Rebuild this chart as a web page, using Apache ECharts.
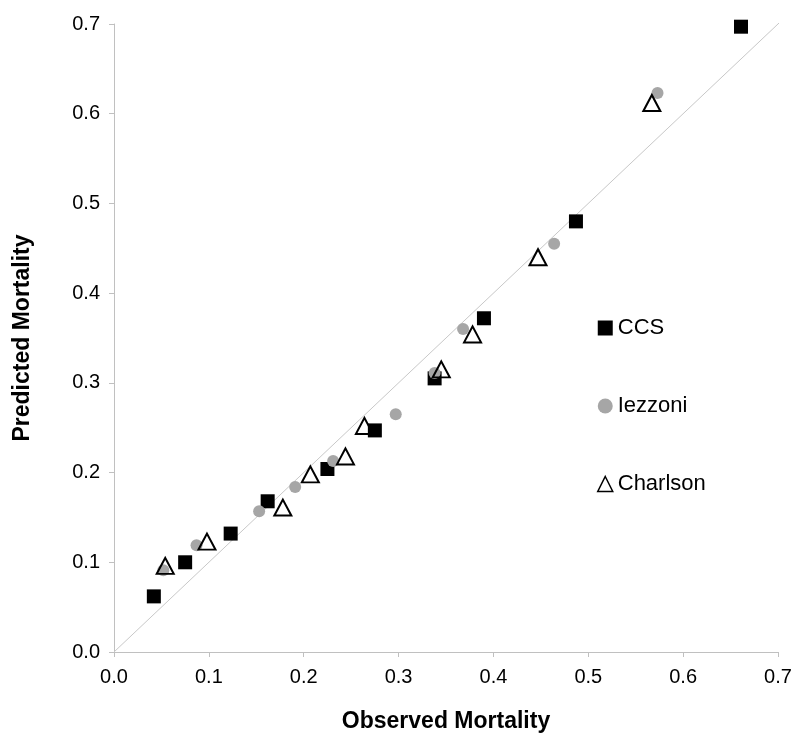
<!DOCTYPE html>
<html>
<head>
<meta charset="utf-8">
<script src="https://cdn.jsdelivr.net/npm/echarts@6/dist/echarts.min.js"></script>
<style>html,body{margin:0;padding:0;background:#fff}#c{width:800px;height:744px}</style>
</head>
<body>
<div id="c"></div>
<script>
const ccs = [[0.042,0.062],[0.075,0.100],[0.123,0.132],[0.162,0.168],[0.225,0.204],[0.275,0.247],[0.338,0.305],[0.390,0.372],[0.487,0.480],[0.661,0.697]];
const iezzoni = [[0.052,0.091],[0.087,0.119],[0.153,0.157],[0.191,0.184],[0.231,0.213],[0.297,0.265],[0.338,0.311],[0.368,0.360],[0.464,0.455],[0.573,0.623]];
const charlson = [[0.054,0.096],[0.098,0.123],[0.178,0.161],[0.207,0.198],[0.244,0.218],[0.264,0.252],[0.345,0.315],[0.378,0.354],[0.447,0.440],[0.567,0.612]];
const identityLine = [[0,0],[0.71,0.71]];
const seriesNames = ['CCS','Iezzoni','Charlson'];
const xTitle = 'Observed Mortality';
const yTitle = 'Predicted Mortality';

const chart = echarts.init(document.getElementById('c'), null, {renderer:'canvas'});
const font = 'Liberation Sans, Arial, sans-serif';
const axisCommon = {
  type:'value', min:0, max:0.7, interval:0.1,
  axisLine:{show:true, lineStyle:{color:'#c0c0c0', width:1}},
  axisTick:{show:true, length:5, inside:false, lineStyle:{color:'#c0c0c0'}},
  splitLine:{show:false},
  axisLabel:{color:'#000', fontSize:20, fontFamily:font, formatter:v=>v.toFixed(1)},
  nameLocation:'middle',
  nameTextStyle:{color:'#000', fontSize:23, fontWeight:'bold', fontFamily:font}
};
chart.setOption({
  animation:false,
  backgroundColor:'#fff',
  grid:{left:114, right:22, top:24, bottom:92},
  xAxis:Object.assign({}, axisCommon, {name:xTitle, nameGap:58, axisLabel:Object.assign({}, axisCommon.axisLabel, {margin:15})}),
  yAxis:Object.assign({}, axisCommon, {name:yTitle, nameGap:80, axisLabel:Object.assign({}, axisCommon.axisLabel, {margin:14})}),
  legend:{
    orient:'vertical', left:592, top:312, itemGap:56, itemWidth:15, itemHeight:15,
    textStyle:{color:'#000', fontSize:22, fontFamily:font},
    data:[
      {name:seriesNames[0], icon:'rect', itemStyle:{color:'#000', opacity:1}},
      {name:seriesNames[1], icon:'circle', itemStyle:{color:'#a6a6a6', opacity:1}},
      {name:seriesNames[2], icon:'triangle', itemStyle:{color:'#fff', borderColor:'#000', borderWidth:1.5, opacity:1}}
    ]
  },
  series:[
    {type:'line', data:identityLine, symbol:'none', silent:true, clip:false, lineStyle:{color:'#c8c8c8', width:1}, z:1},
    {name:seriesNames[0], type:'scatter', data:ccs, symbol:'rect', symbolSize:14, itemStyle:{color:'#000', opacity:1}, z:2},
    {name:seriesNames[1], type:'scatter', data:iezzoni, symbol:'circle', symbolSize:12, itemStyle:{color:'#a6a6a6', opacity:1}, z:3},
    {name:seriesNames[2], type:'scatter', data:charlson, symbol:'triangle', symbolSize:[17,16], itemStyle:{color:'rgba(255,255,255,0)', borderColor:'#000', borderWidth:2, opacity:1}, z:4}
  ]
});
</script>
</body>
</html>
